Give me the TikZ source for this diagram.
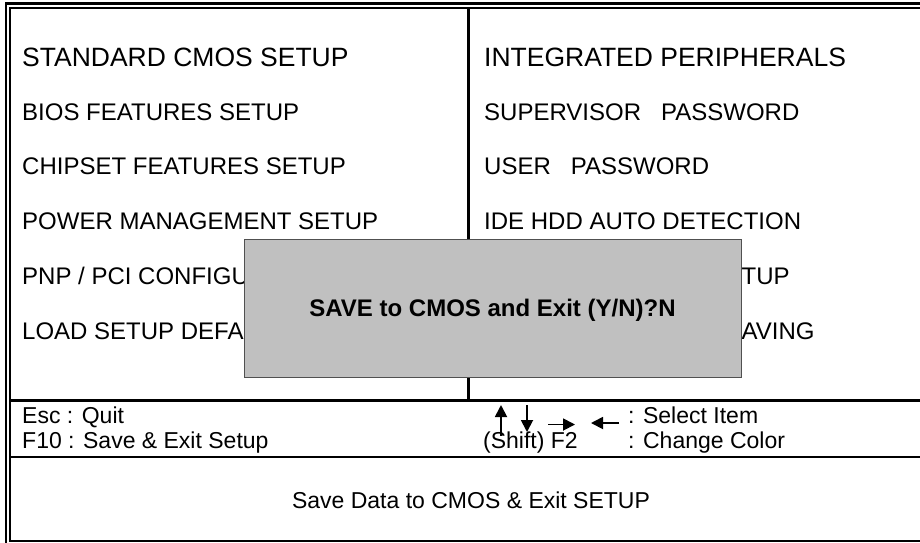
\documentclass[tikz,border=0pt]{standalone}
\usepackage{fontspec}
\setmainfont{Liberation Sans}
\usetikzlibrary{arrows.meta}
\definecolor{dlgfill}{HTML}{C0C0C0}
\definecolor{dlgline}{HTML}{505050}
\begin{document}
\begin{tikzpicture}[x=1pt,y=-1pt,
  frame/.style={line width=2.1pt, line cap=rect},
  big/.style={anchor=base west, inner sep=0pt, font=\fontsize{26.5}{30}\selectfont},
  menu/.style={anchor=base west, inner sep=0pt, font=\fontsize{24}{28}\selectfont},
  foot/.style={anchor=base west, inner sep=0pt, font=\fontsize{23}{27}\selectfont},
  dialog/.style={draw=dlgline, line width=1pt, fill=dlgfill},
  keyarrow/.style={line width=1.8pt, -{Triangle[length=12pt,width=12pt]}}]
\useasboundingbox (0,0) rectangle (920,542);
% frame
\draw[frame] (920,3.5) -- (5.6,3.5) -- (5.6,542);
\draw[frame] (920,7.6) -- (9.8,7.6) -- (9.8,540.6) -- (920,540.6);
\draw[frame] (468.5,7.6) -- (468.5,400.5);
\draw[frame] (9.8,400.5) -- (920,400.5);
\draw[frame] (9.8,457) -- (920,457);
% left column
\node[big]  (l1) at (22,66) {STANDARD CMOS SETUP};
\node[menu] (l2) at (22,120.2) {BIOS FEATURES SETUP};
\node[menu] (l3) at (22,174.6) {CHIPSET FEATURES SETUP};
\node[menu] (l4) at (22,229.2) {POWER MANAGEMENT SETUP};
\node[menu] (l5) at (22,284.2) {PNP / PCI CONFIGU};
\node[menu] (l6) at (22,339.6) {LOAD SETUP DEFA};
% right column
\node[big]  (r1) at (484,66) {INTEGRATED PERIPHERALS};
\node[menu] (r2) at (484,120.2) {SUPERVISOR\hspace{20pt}PASSWORD};
\node[menu] (r3) at (484,174.6) {USER\hspace{20pt}PASSWORD};
\node[menu] (r4) at (484,229.2) {IDE HDD AUTO DETECTION};
\node[menu] (r5) at (741.5,284.2) {TUP};
\node[menu] (r6) at (741.5,339.6) {AVING};
% dialog
\draw[dialog] (244,239.3) rectangle (741,377.7);
\node[anchor=base, inner sep=0pt, font=\fontsize{24}{28}\selectfont\bfseries] (dlg) at (492.5,316) {SAVE to CMOS and Exit (Y/N)?N};
% footer
\node[foot] (esc) at (22,423.5) {Esc : Quit};
\node[foot] (f10) at (22,448) {F10 : Save \& Exit Setup};
\node[foot] (sel) at (628,423.5) {: Select Item};
\node[foot] (sf2) at (483,448) {(Shift) F2};
\node[foot] (chg) at (628,448) {: Change Color};
\node[anchor=base, inner sep=0pt, font=\fontsize{23}{27}\selectfont] (msg) at (471,508) {Save Data to CMOS \& Exit SETUP};
% arrow keys
\coordinate (ua) at (501,436);
\coordinate (ub) at (501,405);
\coordinate (da) at (527,405);
\coordinate (db) at (527,432);
\coordinate (ra) at (548,424.5);
\coordinate (rb) at (575,424.5);
\coordinate (la) at (619,423);
\coordinate (lb) at (591,423);
\draw[keyarrow] (ua) -- (ub);
\draw[keyarrow] (da) -- (db);
\draw[keyarrow] (ra) -- (rb);
\draw[keyarrow] (la) -- (lb);
\end{tikzpicture}
\end{document}
